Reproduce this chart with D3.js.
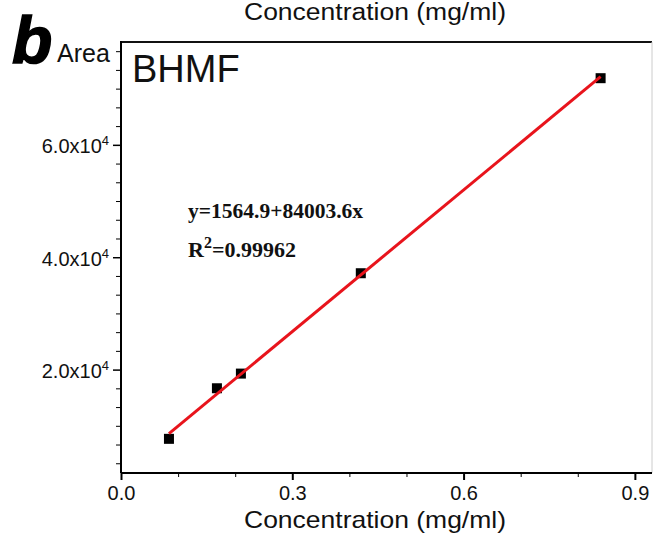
<!DOCTYPE html>
<html>
<head>
<meta charset="utf-8">
<script src="https://cdn.jsdelivr.net/npm/d3@7"></script>
<style>
  body { margin: 0; background: #fff; }
  svg text { font-family: 'Liberation Sans', Arial, sans-serif; }
</style>
</head>
<body>
<div id="chart"></div>
<script>
// Standard curve data for BHMF
const concentrations = [0.084, 0.168, 0.21, 0.42, 0.84];
const areas = [7680, 16680, 19290, 37150, 71860];

// Linear fit
const fitIntercept = 1564.9;
const fitSlope = 84003.6;
const fitR2 = '0.99962';

const xMajorTicks = [0, 0.3, 0.6, 0.9];
const xMinorTicks = [0.1, 0.2, 0.4, 0.5, 0.7, 0.8];
const yMajorTicks = [20000, 40000, 60000];
const yTickLabels = ['2.0x10', '4.0x10', '6.0x10'];

const drawChart = () => {
  let width = 654;
  let height = 541;
  let left = 121;
  let right = 652;
  let top = 42;
  let bottom = 473;

  let svg = d3
    .select('#chart')
    .append('svg')
    .attr('width', width)
    .attr('height', height);

  // Scales
  let xPositionScale = d3.scaleLinear().domain([0, 0.93]).range([left, right]);
  let yPositionScale = d3.scaleLinear().domain([1600, 78300]).range([bottom, top]);

  // minor y ticks: 5 between each major step
  let yMinorTicks = d3
    .range(1, 24)
    .map((i) => (i * 20000) / 6)
    .filter((v) => yMajorTicks.indexOf(Math.round(v)) < 0 && v < 78300);

  // Label from the panel above
  svg
    .append('text')
    .attr('x', 375)
    .attr('y', 20)
    .attr('text-anchor', 'middle')
    .attr('font-size', '23px')
    .attr('textLength', 262)
    .attr('lengthAdjust', 'spacingAndGlyphs')
    .attr('fill', '#111')
    .text('Concentration (mg/ml)');

  // Frame: top and faint right edge
  svg
    .append('line')
    .attr('x1', left)
    .attr('x2', right)
    .attr('y1', top)
    .attr('y2', top)
    .attr('stroke', '#111')
    .attr('stroke-width', 2);

  svg
    .append('line')
    .attr('x1', right)
    .attr('x2', right)
    .attr('y1', top)
    .attr('y2', bottom)
    .attr('stroke', '#ccc')
    .attr('stroke-width', 1);

  // X axis
  let xAxis = svg
    .append('g')
    .attr('class', 'x-axis')
    .attr('transform', `translate(0, ${bottom})`)
    .call(
      d3.axisBottom(xPositionScale)
        .tickValues(xMajorTicks)
        .tickSize(7)
        .tickPadding(6)
        .tickFormat(d3.format('.1f'))
    );

  svg
    .append('g')
    .attr('class', 'x-minor')
    .attr('transform', `translate(0, ${bottom})`)
    .call(d3.axisBottom(xPositionScale).tickValues(xMinorTicks).tickSize(4).tickFormat(''))
    .call((g) => g.select('.domain').remove());

  xAxis.select('.domain').attr('stroke-width', 2).attr('d', `M${left},0H${right}`);
  xAxis.selectAll('line').attr('stroke-width', 2);
  xAxis
    .selectAll('text')
    .attr('font-size', '20px')
    .attr('fill', '#111')
    .style('font-family', "'Liberation Sans', Arial, sans-serif");

  // Y axis
  let yAxis = svg
    .append('g')
    .attr('class', 'y-axis')
    .attr('transform', `translate(${left}, 0)`)
    .call(
      d3.axisLeft(yPositionScale)
        .tickValues(yMajorTicks)
        .tickSize(8)
        .tickPadding(4)
        .tickFormat('')
    );

  svg
    .append('g')
    .attr('class', 'y-minor')
    .attr('transform', `translate(${left}, 0)`)
    .call(d3.axisLeft(yPositionScale).tickValues(yMinorTicks).tickSize(5).tickFormat(''))
    .call((g) => g.select('.domain').remove());

  yAxis.select('.domain').attr('stroke-width', 2).attr('d', `M0,${top - 1}V${bottom}`);
  yAxis.selectAll('line').attr('stroke-width', 1.5);

  yAxis.selectAll('.tick').each(function (d, i) {
    let label = d3
      .select(this)
      .select('text')
      .attr('x', -12)
      .attr('dy', '0.4em')
      .attr('font-size', '20px')
      .attr('fill', '#111')
      .style('font-family', "'Liberation Sans', Arial, sans-serif");
    label.append('tspan').text(yTickLabels[i]);
    label.append('tspan').attr('font-size', '13px').attr('dy', '-8').text('4');
  });

  // Axis titles
  svg
    .append('text')
    .attr('x', 375)
    .attr('y', 528)
    .attr('text-anchor', 'middle')
    .attr('font-size', '24px')
    .attr('textLength', 262)
    .attr('lengthAdjust', 'spacingAndGlyphs')
    .attr('fill', '#111')
    .text('Concentration (mg/ml)');

  svg
    .append('text')
    .attr('x', 57)
    .attr('y', 62)
    .attr('font-size', '25px')
    .attr('fill', '#111')
    .text('Area');

  // Panel letter and sample name
  svg
    .append('text')
    .attr('x', 12)
    .attr('y', 63)
    .attr('font-size', '66px')
    .attr('font-weight', 'bold')
    .attr('font-style', 'italic')
    .attr('stroke', '#000')
    .attr('stroke-width', 1.5)
    .attr('fill', '#000')
    .text('b');

  svg
    .append('text')
    .attr('x', 132)
    .attr('y', 82)
    .attr('font-size', '38px')
    .attr('fill', '#111')
    .text('BHMF');

  // Data points
  let datapoints = concentrations.map((c, i) => ({ conc: c, area: areas[i] }));

  svg
    .selectAll('.point')
    .data(datapoints)
    .enter()
    .append('rect')
    .attr('class', 'point')
    .attr('x', (d) => xPositionScale(d.conc) - 5)
    .attr('y', (d) => yPositionScale(d.area) - 5)
    .attr('width', 10)
    .attr('height', 10)
    .attr('fill', '#000');

  // Fit line
  let xExtent = d3.extent(concentrations);
  let fitLine = d3
    .line()
    .x((d) => xPositionScale(d))
    .y((d) => yPositionScale(fitIntercept + fitSlope * d));

  svg
    .append('path')
    .attr('d', fitLine(xExtent))
    .attr('stroke', '#e8141c')
    .attr('stroke-width', 3)
    .attr('fill', 'none');

  // Equation annotation
  let serif = "'Liberation Serif', 'Times New Roman', serif";

  svg
    .append('text')
    .attr('x', 188)
    .attr('y', 218)
    .attr('font-size', '21.5px')
    .attr('font-weight', 'bold')
    .attr('fill', '#111')
    .style('font-family', serif)
    .text(`y=${fitIntercept}+${fitSlope}x`);

  let r2 = svg
    .append('text')
    .attr('x', 188)
    .attr('y', 257)
    .attr('font-size', '22px')
    .attr('font-weight', 'bold')
    .attr('fill', '#111')
    .style('font-family', serif);
  r2.append('tspan').text('R');
  r2.append('tspan').attr('font-size', '16px').attr('dy', '-9').text('2');
  r2.append('tspan').attr('dy', '9').text(`=${fitR2}`);
};

drawChart();
</script>
</body>
</html>
